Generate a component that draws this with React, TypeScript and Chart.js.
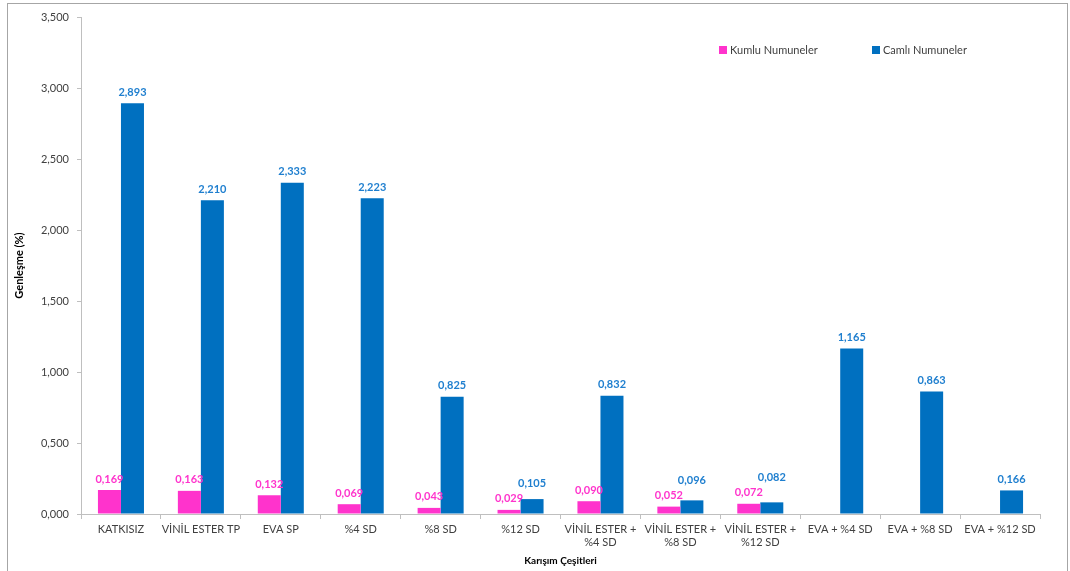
import React, { useEffect, useRef } from "react";
import { Chart, registerables } from "chart.js";

Chart.register(...registerables);

const categories: (string | string[])[] = [
  "KATKISIZ",
  "VİNİL ESTER TP",
  "EVA SP",
  "%4 SD",
  "%8 SD",
  "%12 SD",
  ["VİNİL ESTER +", "%4 SD"],
  ["VİNİL ESTER +", "%8 SD"],
  ["VİNİL ESTER +", "%12 SD"],
  "EVA + %4 SD",
  "EVA + %8 SD",
  "EVA + %12 SD",
];

const kumluValues: (number | null)[] = [0.169, 0.163, 0.132, 0.069, 0.043, 0.029, 0.09, 0.052, 0.072, null, null, null];
const camliValues: number[] = [2.893, 2.21, 2.333, 2.223, 0.825, 0.105, 0.832, 0.096, 0.082, 1.165, 0.863, 0.166];

const seriesNames = ["Kumlu Numuneler", "Camlı Numuneler"];
const yMin = 0;
const yMax = 3.5;
const yStep = 0.5;

const PINK = "#FF33CC";
const BLUE = "#0070C0";
const FONT = "Lato, 'Open Sans', sans-serif";

const fmt = (v: number) => v.toFixed(3).replace(".", ",");

const extrasPlugin = {
  id: "extras",
  afterDatasetsDraw(chart: any) {
    const ctx = chart.ctx;
    ctx.save();
    ctx.font = `bold 11px ${FONT}`;
    ctx.textAlign = "center";
    ctx.textBaseline = "middle";
    const m0 = chart.getDatasetMeta(0);
    const m1 = chart.getDatasetMeta(1);
    const d0 = chart.data.datasets[0].data;
    const d1 = chart.data.datasets[1].data;
    for (let i = 0; i < d1.length; i++) {
      let pinkY: number | null = null;
      if (d0[i] !== null && d0[i] !== undefined) {
        const b = m0.data[i];
        pinkY = b.y - 11;
        ctx.fillStyle = PINK;
        ctx.fillText(fmt(d0[i]), b.x, pinkY);
      }
      if (d1[i] !== null && d1[i] !== undefined) {
        const b = m1.data[i];
        let y = b.y - 11;
        if (pinkY !== null && Math.abs(y - pinkY) < 13) y = Math.min(y, pinkY - 15);
        ctx.fillStyle = "#1F7FCF";
        ctx.fillText(fmt(d1[i]), b.x, y);
      }
    }
    // legend
    ctx.font = `11px ${FONT}`;
    ctx.textAlign = "left";
    const items = [
      { x: 719, color: PINK, label: seriesNames[0] },
      { x: 872, color: BLUE, label: seriesNames[1] },
    ];
    items.forEach((it) => {
      ctx.fillStyle = it.color;
      ctx.fillRect(it.x, 46, 8, 8);
      ctx.fillStyle = "#404040";
      ctx.fillText(it.label, it.x + 11, 50.5);
    });
    // outer border
    ctx.strokeStyle = "#a6a6a6";
    ctx.lineWidth = 1;
    ctx.strokeRect(7.5, 3.5, 1060, 575);
    ctx.restore();
  },
};

export default function App() {
  const ref = useRef<HTMLCanvasElement>(null);
  useEffect(() => {
    if (!ref.current) return;
    const chart = new Chart(ref.current, {
      type: "bar",
      data: {
        labels: categories,
        datasets: [
          { label: seriesNames[0], data: kumluValues, backgroundColor: PINK, borderWidth: 0 },
          { label: seriesNames[1], data: camliValues, backgroundColor: BLUE, borderWidth: 0 },
        ],
      },
      options: {
        animation: false,
        responsive: false,
        maintainAspectRatio: false,
        layout: { padding: { left: 13, right: 30, top: 17, bottom: 4 } },
        datasets: { bar: { categoryPercentage: 0.576, barPercentage: 1 } },
        plugins: {
          legend: { display: false },
          tooltip: { enabled: false },
        },
        scales: {
          x: {
            offset: true,
            grid: { display: true, offset: true, drawOnChartArea: false, drawTicks: true, tickLength: 5, color: "#bfbfbf" },
            border: { display: true, color: "#bfbfbf" },
            ticks: { color: "#404040", font: { family: FONT, size: 11 }, maxRotation: 0, autoSkip: false, padding: 4 },
            title: { display: true, text: "Karışım Çeşitleri", color: "#000", font: { family: FONT, size: 10, weight: "bold" }, padding: { top: 0, bottom: 0 } },
            afterFit: (s: any) => { s.height = 53; },
          },
          y: {
            min: yMin,
            max: yMax,
            ticks: { stepSize: yStep, color: "#404040", font: { family: FONT, size: 11 }, padding: 8, callback: (v: any) => fmt(Number(v)) },
            grid: { display: true, drawOnChartArea: false, drawTicks: true, tickLength: 4, color: "#bfbfbf" },
            border: { display: true, color: "#bfbfbf" },
            title: { display: true, text: "Genleşme (%)", color: "#000", font: { family: FONT, size: 11, weight: "bold" }, padding: { top: 0, bottom: 0 } },
            afterFit: (s: any) => { s.width = 68; },
          },
        },
      },
      plugins: [extrasPlugin],
    } as any);
    return () => chart.destroy();
  }, []);
  return (
    <div style={{ position: "absolute", left: 0, top: 0, width: 1070, height: 571 }}>
      <canvas ref={ref} width={1070} height={571} style={{ display: "block" }} />
    </div>
  );
}
